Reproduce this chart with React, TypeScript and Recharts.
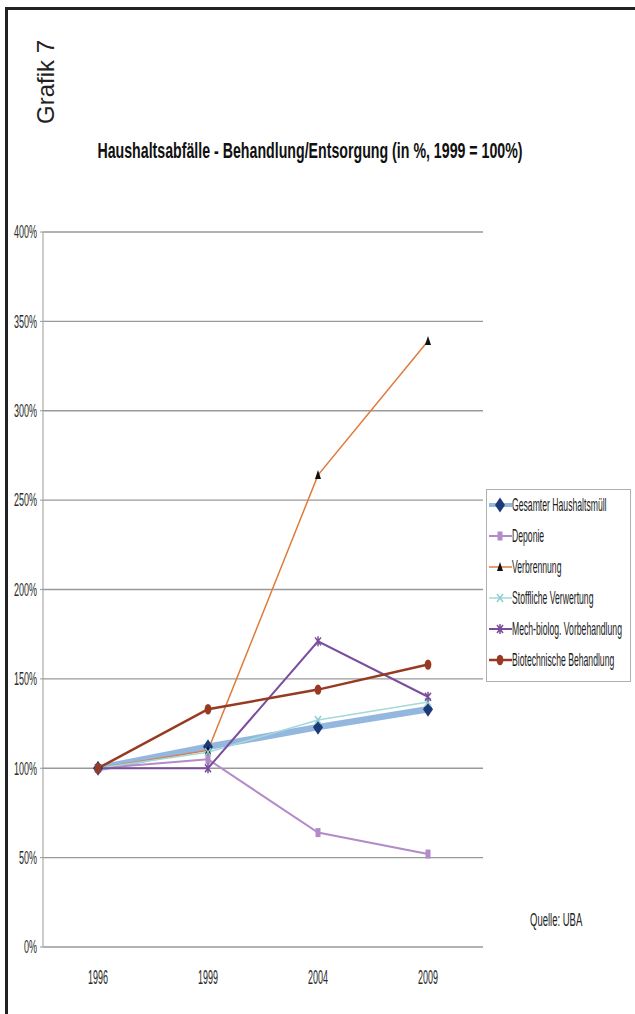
import React from 'react';
import { LineChart, Line, XAxis, YAxis, CartesianGrid, Legend } from 'recharts';

const years = ['1996', '1999', '2004', '2009'];
const gesamterHaushaltsmuell = [100, 112, 123, 133];
const deponie = [100, 105, 64, 52];
const verbrennung = [100, 110, 264, 339];
const stofflicheVerwertung = [100, 109, 127, 137];
const mechBiologVorbehandlung = [100, 100, 171, 140];
const biotechnischeBehandlung = [100, 133, 144, 158];
const yTicks = [0, 50, 100, 150, 200, 250, 300, 350, 400];
const categoryEdges = [0, 1, 2, 3, 4];

const FONT = '"Liberation Sans", Arial, sans-serif';

const series = [
  { key: 'gesamt', name: 'Gesamter Haushaltsmüll', values: gesamterHaushaltsmuell, stroke: '#93b7df', width: 6.5, marker: 'diamond', markerColor: '#1d3a78' },
  { key: 'deponie', name: 'Deponie', values: deponie, stroke: '#b38bc9', width: 2, marker: 'square', markerColor: '#b38bc9' },
  { key: 'verbrennung', name: 'Verbrennung', values: verbrennung, stroke: '#e07a3c', width: 1.5, marker: 'triangle', markerColor: '#111111' },
  { key: 'stofflich', name: 'Stoffliche Verwertung', values: stofflicheVerwertung, stroke: '#a3d9da', width: 1.5, marker: 'cross', markerColor: '#8fcfd3' },
  { key: 'mbv', name: 'Mech-biolog. Vorbehandlung', values: mechBiologVorbehandlung, stroke: '#7a4e9c', width: 2, marker: 'star', markerColor: '#7a4e9c' },
  { key: 'bio', name: 'Biotechnische Behandlung', values: biotechnischeBehandlung, stroke: '#983a22', width: 2.5, marker: 'circle', markerColor: '#983a22' },
];

const data = years.map((year, i) => {
  const row: Record<string, string | number> = { year };
  series.forEach((s) => {
    row[s.key] = s.values[i];
  });
  return row;
});

function Marker({ type, cx, cy, color }: { type: string; cx: number; cy: number; color: string }) {
  switch (type) {
    case 'diamond':
      return <path d={`M${cx},${cy - 7.5} L${cx + 5},${cy} L${cx},${cy + 7.5} L${cx - 5},${cy} Z`} fill={color} />;
    case 'square':
      return <rect x={cx - 2.5} y={cy - 4.5} width={5} height={9} fill={color} />;
    case 'triangle':
      return <path d={`M${cx},${cy - 5} L${cx + 3},${cy + 4} L${cx - 3},${cy + 4} Z`} fill={color} />;
    case 'cross':
      return <path d={`M${cx - 3},${cy - 4} L${cx + 3},${cy + 4} M${cx + 3},${cy - 4} L${cx - 3},${cy + 4}`} stroke={color} strokeWidth={1.5} />;
    case 'star':
      return (
        <path
          d={`M${cx - 3},${cy - 4} L${cx + 3},${cy + 4} M${cx + 3},${cy - 4} L${cx - 3},${cy + 4} M${cx},${cy - 5} L${cx},${cy + 5}`}
          stroke={color}
          strokeWidth={1.5}
        />
      );
    default:
      return <ellipse cx={cx} cy={cy} rx={3.4} ry={5.2} fill={color} />;
  }
}

const YTick = ({ x, y, payload }: any) => (
  <text transform={`translate(${x},${y}) scale(0.5,1)`} textAnchor="end" dy="0.35em" fontSize={18} fontFamily={FONT} fill="#2a2a2a">
    {payload.value}%
  </text>
);

const XTick = ({ x, y, payload }: any) => (
  <text transform={`translate(${x},${y}) scale(0.45,1)`} textAnchor="middle" dy="0.71em" fontSize={20} fontFamily={FONT} fill="#2a2a2a">
    {payload.value}
  </text>
);

// legend keeps the series order of the original chart
function LegendBox({ payload }: any) {
  const shown = new Set((payload || []).map((p: any) => p.dataKey));
  const items = series.filter((s) => shown.has(s.key));
  return (
    <svg width={145} height={193} style={{ display: 'block' }}>
      <rect x={0.5} y={0.5} width={144} height={192} fill="#fff" stroke="#b0b0b0" />
      {items.map((s, i) => {
        const cy = 16 + i * 31;
        return (
          <g key={s.key}>
            <line x1={3} x2={26} y1={cy} y2={cy} stroke={s.stroke} strokeWidth={Math.min(s.width, 4)} />
            <Marker type={s.marker} cx={14} cy={cy} color={s.markerColor} />
            <text transform={`translate(26,${cy}) scale(0.48,1)`} dy="0.35em" fontSize={18} fontFamily={FONT} fill="#1a1a1a">
              {s.name}
            </text>
          </g>
        );
      })}
    </svg>
  );
}

export default function App() {
  return (
    <div style={{ position: 'absolute', left: 0, top: 0, width: 635, height: 1014, background: '#fff', overflow: 'hidden' }}>
      <LineChart width={635} height={1014} data={data} margin={{ top: 232, right: 152, bottom: 27, left: 0 }}>
        <CartesianGrid vertical={false} stroke="#999" strokeWidth={1.3} />
        <XAxis
          xAxisId="edges"
          type="number"
          domain={[0, 4]}
          ticks={categoryEdges}
          allowDataOverflow
          height={0}
          axisLine={{ stroke: '#777', strokeWidth: 2 }}
          tickLine={{ stroke: '#888' }}
          tickSize={5}
          tickFormatter={() => ''}
        />
        <XAxis
          dataKey="year"
          type="category"
          padding={{ left: 55, right: 55 }}
          height={40}
          axisLine={false}
          tickLine={false}
          tickSize={0}
          tickMargin={23}
          tick={<XTick />}
        />
        <YAxis
          domain={[0, 400]}
          ticks={yTicks}
          width={43}
          axisLine={{ stroke: '#999' }}
          tickLine={{ stroke: '#999' }}
          tickSize={3}
          tickMargin={3}
          tick={<YTick />}
          interval={0}
        />
        <YAxis
          yAxisId="frame"
          orientation="right"
          domain={[0, 400]}
          width={0}
          axisLine={{ stroke: '#c4c4c4' }}
          tick={false}
          tickLine={false}
        />
        <Legend
          layout="vertical"
          align="center"
          verticalAlign="middle"
          content={<LegendBox />}
          wrapperStyle={{ position: 'absolute', left: 486, top: 489, width: 145, height: 193 }}
        />
        {series.map((s) => (
          <Line
            key={s.key}
            dataKey={s.key}
            name={s.name}
            stroke={s.stroke}
            strokeWidth={s.width}
            type="linear"
            isAnimationActive={false}
            dot={(p: any) => (
              <g key={`${s.key}-${p.index}`}>
                <Marker type={s.marker} cx={p.cx} cy={p.cy} color={s.markerColor} />
              </g>
            )}
            activeDot={false}
          />
        ))}
      </LineChart>

      <svg width={635} height={1014} style={{ position: 'absolute', left: 0, top: 0, pointerEvents: 'none' }}>
        <line x1={6.5} x2={6.5} y1={7} y2={1014} stroke="#222" strokeWidth={3} />
        <line x1={5} x2={635} y1={8.5} y2={8.5} stroke="#222" strokeWidth={3} />
        <text transform="translate(54,82) rotate(-90)" textAnchor="middle" fontSize={24} fontFamily={FONT} fill="#222">
          Grafik 7
        </text>
        <text transform="translate(310,158) scale(0.645,1)" textAnchor="middle" fontSize={22} fontWeight="bold" fontFamily={FONT} fill="#111">
          Haushaltsabfälle - Behandlung/Entsorgung (in %, 1999 = 100%)
        </text>
        <text transform="translate(530,926) scale(0.5,1)" fontSize={19} fontFamily={FONT} fill="#222">
          Quelle: UBA
        </text>
      </svg>
    </div>
  );
}
